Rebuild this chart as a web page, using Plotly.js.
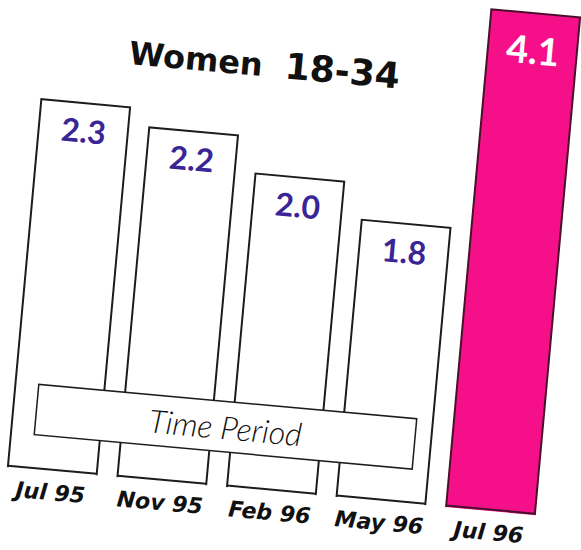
<!DOCTYPE html>
<html>
<head>
<meta charset="utf-8">
<script src="https://cdn.plot.ly/plotly-3.0.1.min.js"></script>
<style>
  html, body { margin: 0; padding: 0; width: 581px; height: 550px; overflow: hidden; background: #ffffff; }
  #chart { position: absolute; left: -40px; top: -40px; width: 661px; height: 630px;
           transform: rotate(5.2deg); transform-origin: 50% 50%; }
</style>
</head>
<body>
<div id="chart"></div>
<script>
// ---- data ----
const categories = ['Jul 95', 'Nov 95', 'Feb 96', 'May 96', 'Jul 96'];
const values = [2.3, 2.2, 2.0, 1.8, 4.1];
const highlightIndex = 4;           // the off-scale magenta bar
const chartTitle = 'Women';
const chartSubtitle = '18-34';
const boxLabel = 'Time Period';

// ---- split regular / highlighted ----
const regCats = categories.filter((c, i) => i !== highlightIndex);
const regVals = values.filter((v, i) => i !== highlightIndex);
const hiCats = [categories[highlightIndex]];
const hiVals = [values[highlightIndex]];

const edge = '#1c1c1c';
const magenta = '#f5108a';
const magEdge = '#4a0f2c';
const numColor = '#3a2596';

const traces = [
  { type: 'bar', x: regCats, y: regVals, yaxis: 'y',
    marker: { color: '#ffffff', line: { color: edge, width: 2 } },
    hoverinfo: 'skip' },
  { type: 'bar', x: hiCats, y: hiVals, yaxis: 'y2',
    marker: { color: magenta, line: { color: magEdge, width: 2 } },
    hoverinfo: 'skip' }
];

const annotations = [];
regCats.forEach((c, i) => annotations.push({
  x: c, y: regVals[i], xref: 'x', yref: 'y', text: regVals[i].toFixed(1),
  showarrow: false, yanchor: 'middle', yshift: -27,
  font: { family: 'Lato', size: 32, weight: 'bold', color: numColor }
}));
hiCats.forEach((c, i) => annotations.push({
  x: c, y: hiVals[i], xref: 'x', yref: 'y2', text: hiVals[i].toFixed(1),
  showarrow: false, yanchor: 'middle', yshift: -36,
  font: { family: 'Lato', size: 38, weight: 'bold', color: '#ffffff' }
}));
annotations.push({
  x: 0.4065, y: 0.119, xref: 'paper', yref: 'paper', text: boxLabel,
  showarrow: false, xanchor: 'center', yanchor: 'middle',
  width: 378, height: 49, bgcolor: '#ffffff', bordercolor: edge, borderwidth: 1.5, borderpad: 0,
  font: { family: 'Lato', size: 32, style: 'italic', weight: 300, color: '#111111' }
});

// bottom edges of the bars (the truncated axis clips the bar outlines)
const shapes = categories.map((c, i) => ({
  type: 'line', xref: 'x', yref: 'y domain', x0: c, x1: c, x0shift: -0.405, x1shift: 0.405,
  y0: 0.003, y1: 0.003, line: { color: i === highlightIndex ? magEdge : edge, width: 2 }
}));

const layout = {
  width: 661, height: 630,
  margin: { l: 56, r: 55, t: 30, b: 98 },
  paper_bgcolor: '#ffffff', plot_bgcolor: 'rgba(0,0,0,0)',
  showlegend: false,
  barmode: 'overlay', bargap: 0.19,
  title: {
    text: chartTitle + '&nbsp;&nbsp;<span style="font-size:36px">' + chartSubtitle + '</span>',
    x: 0.432, xanchor: 'center', y: 0.828, yanchor: 'middle', yref: 'container',
    font: { family: 'DejaVu Sans', size: 32, weight: 'bold', color: '#111111' }
  },
  xaxis: {
    type: 'category', categoryorder: 'array', categoryarray: categories,
    range: [-0.5, 4.5], showgrid: false, zeroline: false, showline: false, ticks: '',
    ticklabelstandoff: 6,
    tickfont: { family: 'DejaVu Sans', size: 22, weight: 'bold', style: 'italic', color: '#111111' }
  },
  yaxis: { range: [0.27, 3.028], visible: false, showgrid: false, zeroline: false },
  yaxis2: { range: [0.27, 4.117], overlaying: 'y', visible: false, showgrid: false, zeroline: false },
  annotations: annotations,
  shapes: shapes
};

Plotly.newPlot('chart', traces, layout, { displayModeBar: false, staticPlot: true });
</script>
</body>
</html>
